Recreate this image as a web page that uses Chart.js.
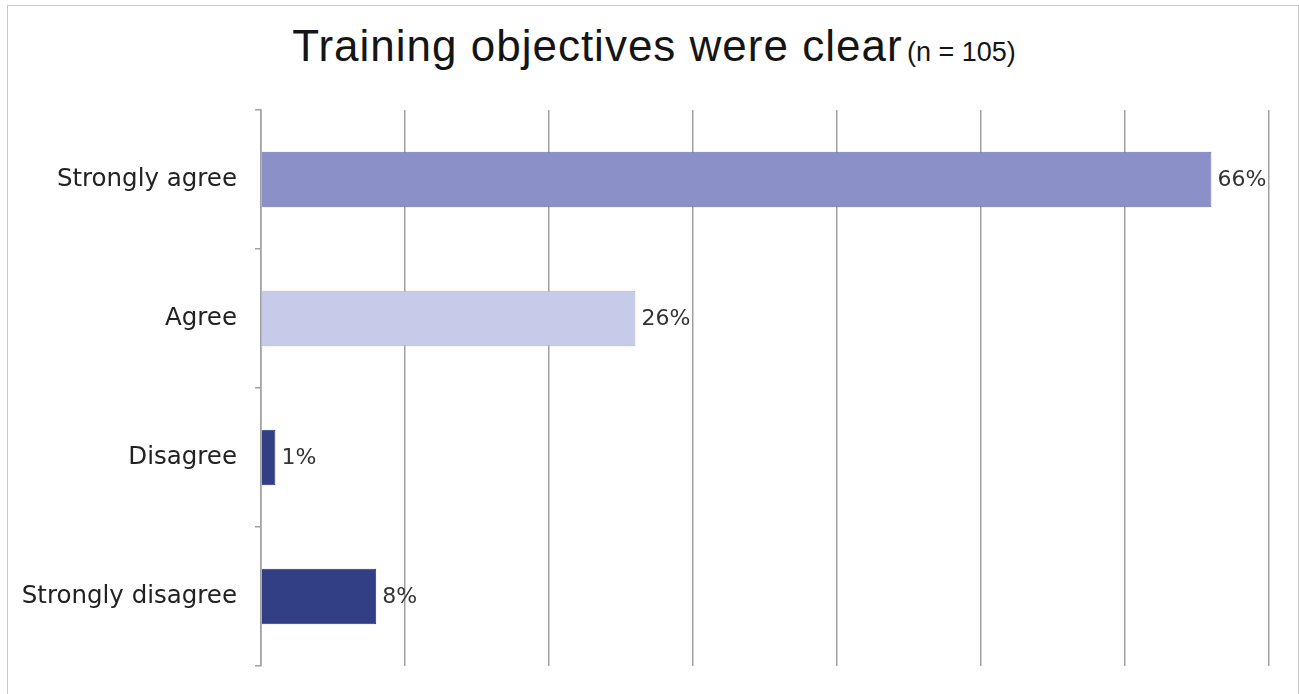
<!DOCTYPE html>
<html>
<head>
<meta charset="utf-8">
<title>Training objectives were clear</title>
<script src="https://cdn.jsdelivr.net/npm/chart.js@4"></script>
<style>
  body { margin: 0; background: #fff; }
  #frame { position: absolute; left: 7px; top: 5px; width: 1290px; height: 700px; border: 1px solid #c8c8c8; }
  #title { position: absolute; left: 0; top: 21px; width: 1308px; text-align: center;
           font-family: "Liberation Sans", Arial, sans-serif; color: #151515; white-space: nowrap; }
  #title .main { font-size: 44px; letter-spacing: 1px; }
  #title .n { font-size: 27px; }
  #chart { position: absolute; left: 0; top: 0; }
</style>
</head>
<body>
<div id="frame"></div>
<div id="title"><span class="main">Training objectives were clear</span> <span class="n">(n = 105)</span></div>
<canvas id="chart" width="1299" height="694"></canvas>
<script>
// Survey answers, top to bottom
var categories = ["Strongly agree", "Agree", "Disagree", "Strongly disagree"];
var percents = [66, 26, 1, 8];
var barColors = ["#8c90c9", "#c5cbe9", "#323f84", "#323f84"];
var barEdges = ["#6c71b0", "#aab2db", "#2a3675", "#2a3675"];
var xMax = 70;
var xStep = 10;

// Percent text just past the end of each bar
var valueLabels = {
    id: 'valueLabels',
    afterDatasetsDraw: function(chart) {
        var ctx = chart.ctx;
        var meta = chart.getDatasetMeta(0);
        ctx.save();
        ctx.font = '22px "DejaVu Sans", sans-serif';
        ctx.fillStyle = '#333';
        ctx.textAlign = 'left';
        ctx.textBaseline = 'middle';
        meta.data.forEach(function(bar, i) {
            ctx.fillText(percents[i] + '%', bar.x + 6, bar.y + 1);
        });
        ctx.restore();
    }
};

var ctx = document.getElementById('chart').getContext('2d');
var chart = new Chart(ctx, {
    type: 'bar',
    data: {
        labels: categories,
        datasets: [{
            data: percents,
            backgroundColor: barColors,
            borderColor: barEdges,
            borderWidth: 1,
            borderSkipped: 'left',
            categoryPercentage: 1,
            barPercentage: 0.4
        }]
    },
    options: {
        indexAxis: 'y',
        responsive: false,
        animation: false,
        devicePixelRatio: 1,
        layout: { padding: { top: 110, right: 30, bottom: 28, left: 10 } },
        plugins: {
            legend: { display: false },
            tooltip: { enabled: false }
        },
        scales: {
            x: {
                min: 0,
                max: xMax,
                afterFit: function(scale) { scale.height = 0; },
                ticks: { display: false, stepSize: xStep },
                border: { display: false },
                grid: { color: '#a0a0a0', lineWidth: 1.5, drawTicks: false }
            },
            y: {
                // fixed label column; labels sit inside their bands, so no extra end padding
                afterFit: function(scale) {
                    scale.width = 251;
                    scale.paddingTop = 0;
                    scale.paddingBottom = 0;
                },
                ticks: {
                    color: '#222',
                    padding: 18,
                    font: { family: '"DejaVu Sans", sans-serif', size: 24.5 }
                },
                border: { display: true, color: '#a0a0a0', width: 1.5 },
                grid: { drawOnChartArea: false, tickLength: 6, color: '#a0a0a0', lineWidth: 1.5 }
            }
        }
    },
    plugins: [valueLabels]
});
</script>
</body>
</html>
